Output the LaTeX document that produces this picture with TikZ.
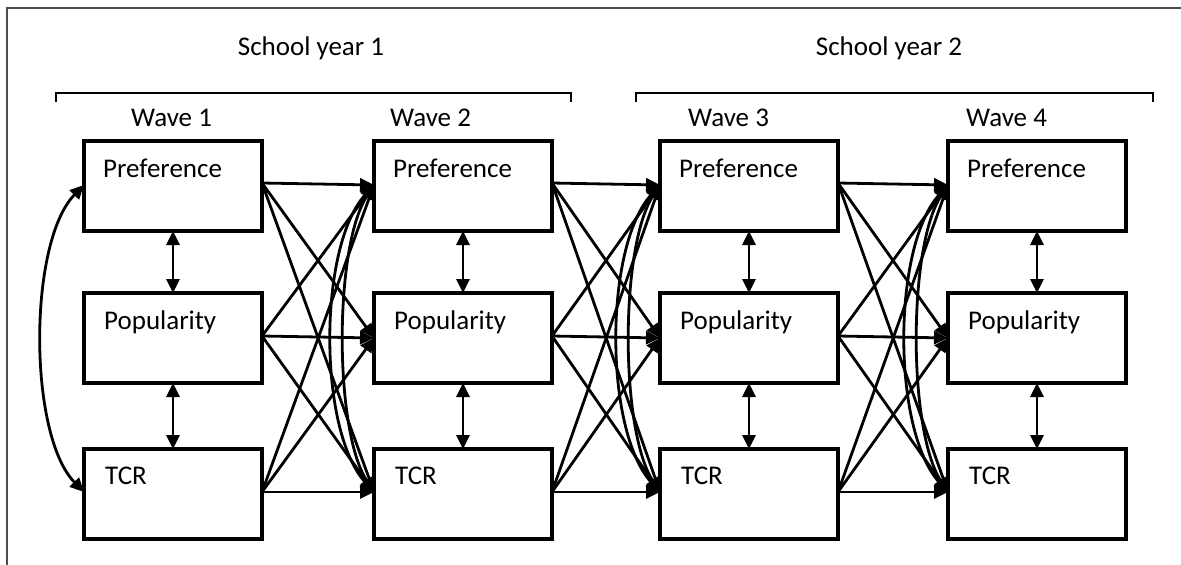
\documentclass[tikz,border=0pt]{standalone}
\usepackage{fontspec}
\setmainfont{Carlito}
\usetikzlibrary{calc,arrows.meta}
\begin{document}
\begin{tikzpicture}[x=1pt,y=-1pt,
  box/.style={draw,line width=3.2pt,minimum width=178pt,minimum height=90pt,inner sep=0pt,outer sep=0pt},
  lbl/.style={font=\fontsize{27}{31}\selectfont,inner sep=0pt,anchor=base west},
  ttl/.style={font=\fontsize{27}{31}\selectfont,inner sep=0pt,anchor=base},
  tip/.tip={Triangle[length=14pt,width=13pt]},
  arr/.style={line width=2.8pt,-tip},
  darr/.style={line width=2.8pt,tip-tip},
  brk/.style={line width=2.8pt,line cap=rect},
  frame/.style={line width=1.8pt,draw=black!70}]
\useasboundingbox (0,0) rectangle (1181,565);
\draw[frame] (7,565) -- (7,8) -- (1181,8);
% titles
\node[ttl] (sy1) at (311,55) {School year 1};
\node[ttl] (sy2) at (889,55) {School year 2};
\draw[brk] (56,101) -- (56,93) -- (571,93) -- (571,101);
\draw[brk] (636,101) -- (636,93) -- (1153,93) -- (1153,101);
\node[lbl] (w1) at (131,126) {Wave 1};
\node[lbl] (w2) at (390,126) {Wave 2};
\node[lbl] (w3) at (688,126) {Wave 3};
\node[lbl] (w4) at (966,126) {Wave 4};
% boxes
\foreach \i/\L in {1/84,2/374,3/660,4/948}{
  \node[box] (P\i) at ({\L+89},186) {};
  \node[box] (O\i) at ({\L+89},338) {};
  \node[box] (T\i) at ({\L+89},494) {};
  \node[lbl] (P\i t) at ($(P\i.north west)+(19,36)$) {Preference};
  \node[lbl] (O\i t) at ($(O\i.north west)+(20,36)$) {Popularity};
  \node[lbl] (T\i t) at ($(T\i.north west)+(21,35)$) {TCR};
  \coordinate (sP\i) at ($(P\i.north east)+(0,42)$);
  \coordinate (sO\i) at ($(O\i.north east)+(0,43)$);
  \coordinate (sT\i) at ($(T\i.north east)+(0,43)$);
  \coordinate (tP\i) at ($(P\i.north west)+(0,44)$);
  \coordinate (tO\i) at ($(O\i.north west)+(0,45)$);
  \coordinate (tT\i) at ($(T\i.north west)+(0,43)$);
  \draw[darr] (P\i.south) -- (O\i.north);
  \draw[darr] (O\i.south) -- (T\i.north);
}
% cross-lagged paths
\foreach \i/\j in {1/2,2/3,3/4}{
  \foreach \s in {P,O,T}{
    \foreach \t in {P,O,T}{
      \draw[arr] (s\s\i) -- (t\t\j);
    }
  }
  \draw[darr] (tP\j) .. controls ($(tP\j)+(-56,62)$) and ($(tT\j)+(-56,-62)$) .. (tT\j);
  \draw[darr] (tP\j) .. controls ($(tP\j)+(-40,62)$) and ($(tT\j)+(-40,-62)$) .. (tT\j);
}
\draw[darr] (tP1) .. controls ($(tP1)+(-56,57)$) and ($(tT1)+(-56,-57)$) .. (tT1);
\end{tikzpicture}
\end{document}
